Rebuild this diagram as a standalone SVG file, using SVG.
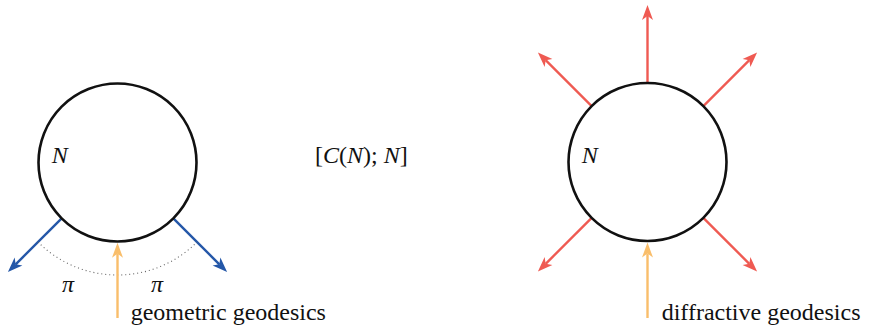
<svg xmlns="http://www.w3.org/2000/svg" width="870" height="326" viewBox="0 0 870 326">
<style>
.circ{fill:#fff;stroke:#111;stroke-width:2.6}
.t{font-family:'Times New Roman',Times,'Liberation Serif','Noto Serif','DejaVu Serif',serif;font-size:24px;fill:#111}
.it{font-style:italic}
.blue{stroke:#2457A8;stroke-width:2.4;fill:none}
.red{stroke:#EF5A52;stroke-width:2.4;fill:none}
.yel{stroke:#F9BE6B;stroke-width:2.4;fill:none}
</style>
<defs>
<marker id="mb" markerUnits="userSpaceOnUse" markerWidth="16" markerHeight="14" refX="4" refY="6" orient="auto" viewBox="0 0 16 12">
<path d="M15,6 L0,0.5 L4,6 L0,11.5 Z" fill="#2457A8"/>
</marker>
<marker id="mr" markerUnits="userSpaceOnUse" markerWidth="16" markerHeight="14" refX="4" refY="6" orient="auto" viewBox="0 0 16 12">
<path d="M15,6 L0,0.5 L4,6 L0,11.5 Z" fill="#EF5A52"/>
</marker>
<marker id="my" markerUnits="userSpaceOnUse" markerWidth="16" markerHeight="14" refX="4" refY="6" orient="auto" viewBox="0 0 16 12">
<path d="M15,6 L0,0.5 L4,6 L0,11.5 Z" fill="#F9BE6B"/>
</marker>
</defs>
<g id="connectors">
<line class="blue" x1="61.64" y1="218.36" x2="15.68" y2="264.32" marker-end="url(#mb)"/>
<line class="blue" x1="173.36" y1="218.36" x2="219.32" y2="264.32" marker-end="url(#mb)"/>
<path d="M37.95,242.05 A112.5,112.5 0 0 0 197.05,242.05" fill="none" stroke="#666" stroke-width="1.1" stroke-dasharray="1 3"/>
<line class="yel" x1="117.5" y1="318" x2="117.5" y2="253.7" marker-end="url(#my)"/>
<line class="red" x1="647.5" y1="83" x2="647.5" y2="16" marker-end="url(#mr)"/>
<line class="red" x1="591.64" y1="106.14" x2="545.68" y2="60.18" marker-end="url(#mr)"/>
<line class="red" x1="703.36" y1="106.14" x2="749.32" y2="60.18" marker-end="url(#mr)"/>
<line class="red" x1="591.64" y1="217.86" x2="545.68" y2="263.82" marker-end="url(#mr)"/>
<line class="red" x1="703.36" y1="217.86" x2="749.32" y2="263.82" marker-end="url(#mr)"/>
<line class="yel" x1="647.5" y1="318" x2="647.5" y2="253.5" marker-end="url(#my)"/>
</g>
<g id="left-node">
<circle class="circ" cx="117.5" cy="162.5" r="79"/>
<text class="t it" x="51.7" y="163">N</text>
</g>
<g id="right-node">
<circle class="circ" cx="647.5" cy="162" r="79"/>
<text class="t it" x="581.7" y="163">N</text>
</g>
<g id="labels">
<text class="t it" x="68" y="292" text-anchor="middle">π</text>
<text class="t it" x="157" y="292" text-anchor="middle">π</text>
<text class="t" x="130.7" y="320">geometric geodesics</text>
<text class="t" x="661.7" y="320">diffractive geodesics</text>
<text class="t" x="315" y="163.3">[<tspan class="it">C</tspan>(<tspan class="it">N</tspan>); <tspan class="it">N</tspan>]</text>
</g>
</svg>
